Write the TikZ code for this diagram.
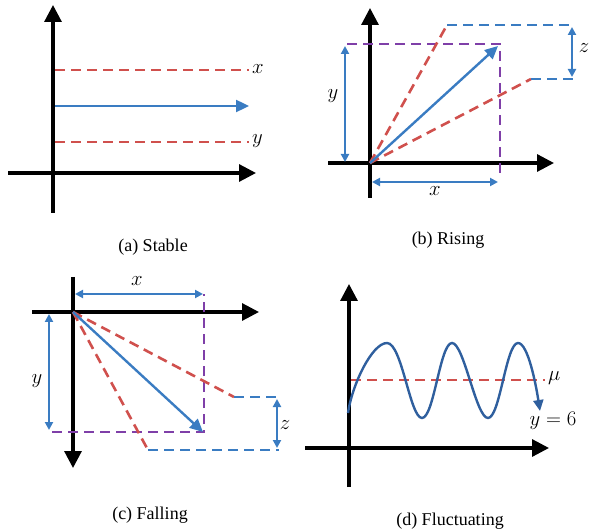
\documentclass[tikz,border=0pt]{standalone}
\usepackage{fontspec}
\setmainfont{Liberation Serif}
\usetikzlibrary{arrows.meta}
\definecolor{cred}{HTML}{D0504D}
\definecolor{cblue}{HTML}{3A7CC2}
\definecolor{cpurple}{HTML}{7F3FA8}
\definecolor{cdblue}{HTML}{2F5F9E}
\tikzset{
  axis/.style={line width=3.2pt, -{Triangle[length=17pt,width=17pt]}},
  reddash/.style={cred, line width=2.6pt, dash pattern=on 10pt off 6pt},
  bluedash/.style={cblue, line width=2.6pt, dash pattern=on 10pt off 6pt},
  purpledash/.style={cpurple, line width=2.6pt, dash pattern=on 10pt off 6pt},
  barrow/.style={cblue, line width=2.4pt, -{Triangle[length=13pt,width=12pt]}},
  dim/.style={cblue, line width=2pt, {Triangle[length=8pt,width=8pt]}-{Triangle[length=8pt,width=8pt]}},
  lab/.style={font=\fontsize{21}{24}\selectfont, inner sep=1pt},
  captext/.style={font=\fontsize{18}{21}\selectfont}
}
\begin{document}
\begin{tikzpicture}[x=1pt,y=-1pt]
\useasboundingbox (0,0) rectangle (590,532);
% ===== (a) Stable =====
\coordinate (aO) at (53,173);
\draw[axis] (53,213) -- (53,5);
\draw[axis] (8,173) -- (256,173);
\draw[reddash] (55,70) -- (249,70);
\draw[reddash] (55,142) -- (249,142);
\draw[barrow] (55,106) -- (249,106);
\node[lab, anchor=west] (ax) at (251,69) {$x$};
\node[lab, anchor=west] (ay) at (251,141) {$y$};
\node[captext] (capa) at (153,247) {(a) Stable};
% ===== (b) Rising =====
\coordinate (bO) at (370,163);
\coordinate (bP) at (500,44);
\draw[axis] (370,198) -- (370,8);
\draw[axis] (328,163) -- (554,163);
\draw[purpledash] (347,44) -- (bP) -- (500,177);
\coordinate (bR1) at (447,25);
\coordinate (bR2) at (531,79);
\draw[reddash] (bO) -- (bR1);
\draw[reddash] (bO) -- (bR2);
\draw[bluedash] (bR1) -- (575,25);
\draw[bluedash] (bR2) -- (575,79);
\draw[barrow] (bO) -- (498,46);
\draw[dim] (345,46) -- (345,162);
\draw[dim] (372,182) -- (498,182);
\draw[dim] (572,27) -- (572,77);
\node[lab] (by) at (333,96) {$y$};
\node[lab] (bx) at (435,191) {$x$};
\node[lab] (bz) at (584,48) {$z$};
\node[captext] (capb) at (448,240) {(b) Rising};
% ===== (c) Falling =====
\coordinate (cO) at (73,312);
\coordinate (cP) at (204,432);
\draw[axis] (73,277) -- (73,468);
\draw[axis] (32,312) -- (259,312);
\draw[purpledash] (52,432) -- (cP) -- (204,294);
\coordinate (cR1) at (234,397);
\coordinate (cR2) at (148,450);
\draw[reddash] (cO) -- (cR1);
\draw[reddash] (cO) -- (cR2);
\draw[bluedash] (cR1) -- (279,397);
\draw[bluedash] (cR2) -- (279,450);
\draw[barrow] (cO) -- (203,432);
\draw[dim] (75,294) -- (203,294);
\draw[dim] (49,314) -- (49,430);
\draw[dim] (277,399) -- (277,448);
\node[lab] (cx) at (137,281) {$x$};
\node[lab] (cy) at (37,381) {$y$};
\node[lab] (cz) at (285,425) {$z$};
\node[captext] (capc) at (150,515) {(c) Falling};
% ===== (d) Fluctuating =====
\draw[axis] (349,487) -- (349,284);
\draw[axis] (305,448) -- (549,448);
\draw[reddash] (351,380) -- (545,380);
\draw[cdblue, line width=2.4pt, -{Triangle[length=11pt,width=10pt]}]
  (348,413) .. controls (352,385) and (372,343) .. (387,343)
  .. controls (402,343) and (410,418) .. (422,418)
  .. controls (434,418) and (440,343) .. (452,343)
  .. controls (464,343) and (476,418) .. (488,418)
  .. controls (500,418) and (506,343) .. (518,343)
  .. controls (528,343) and (536,385) .. (540,411);
\node[lab, anchor=west] (dmu) at (547,378) {$\mu$};
\node[lab] (dy) at (553,421) {$y=6$};
\node[captext] (capd) at (450,521) {(d) Fluctuating};
\end{tikzpicture}
\end{document}
